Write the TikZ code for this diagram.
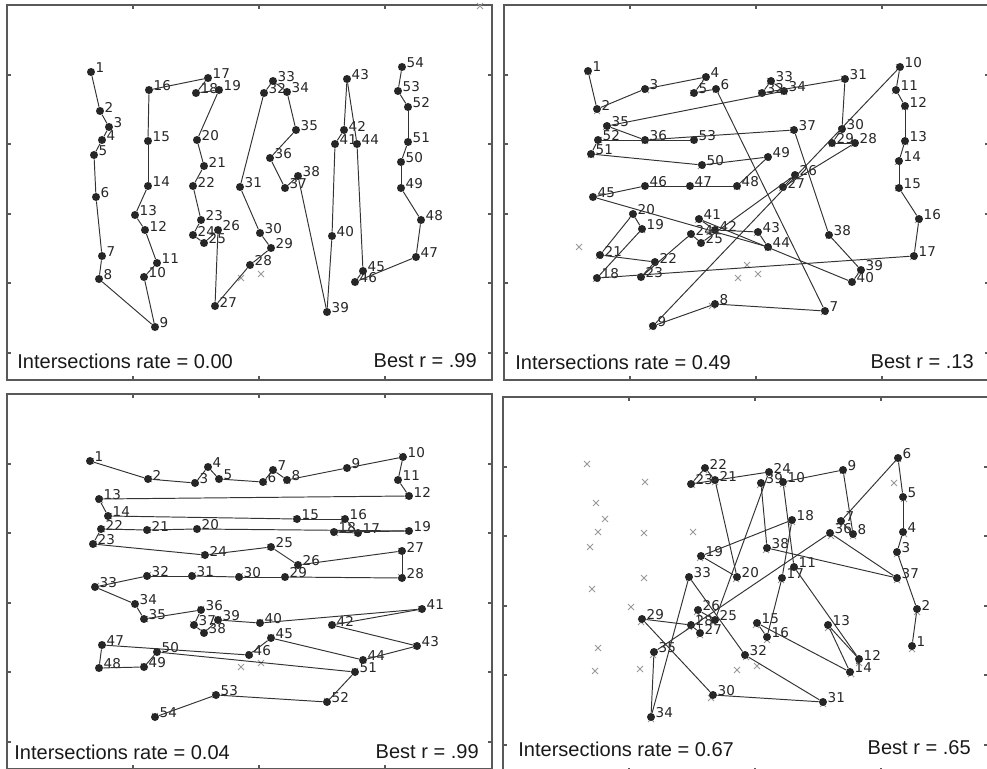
\documentclass[tikz,border=0pt]{standalone}
\usepackage{fontspec}
\usepackage{tikz}
\newfontfamily\plotfont{DejaVu Sans}
\newfontfamily\notefont{Liberation Sans}

\def\truepts{84/67,93/106,102/122,95/135,87/150,89/192,95/251,92/274,148/322,137/272,
  150/258,138/225,128/210,141/181,141/136,142/85,201/73,189/88,212/85,190/135,
  197/161,186/181,194/215,186/230,197/238,211/225,208/301,243/260,264/243,253/228,
  233/182,257/88,266/76,280/87,289/125,263/153,278/183,291/171,320/307,325/231,
  328/139,337/125,340/74,350/139,356/266,348/277,409/252,414/215,394/183,394/157,
  401/137,401/102,391/86,395/62,234/273,254/269}

\newcommand\panel[2]{%
  \begin{scope}[shift={(#1,#2)}]
    \draw[frame] (0,0) rectangle (485,375);
    \foreach \t in {126,252,378}
      \draw[frame] (\t,0) -- ++(0,4) (\t,375) -- ++(0,-4);
    \foreach \t in {70,139,209,278,348}
      \draw[frame] (0,\t) -- ++(4,0) (485,\t) -- ++(-4,0);
    \foreach \u/\v in \truepts
      \draw[xmark] (\u-3,\v-3) -- (\u+3,\v+3) (\u-3,\v+3) -- (\u+3,\v-3);
  \end{scope}}

\begin{document}
\begin{tikzpicture}[x=0.2mm,y=-0.2mm,
    dot/.style={circle,fill=black!85,inner sep=0pt,minimum size=1.6mm,label distance=-1mm},
    lab/.style={font=\plotfont\fontsize{7.7}{8}\selectfont,inner sep=0pt,yshift=0.8mm,text=black!85},
    link/.style={draw=black!80,line width=0.55pt},
    xmark/.style={draw=black!40,line width=0.45pt},
    frame/.style={draw=black!65,line width=0.6pt},
    note/.style={font=\notefont\fontsize{11.4}{13}\selectfont,inner sep=0pt,text=black!90}]

  \useasboundingbox (0,0) rectangle (987,769);

  \panel{7}{5}
  \panel{504}{5}
  \panel{7}{394}
  \panel{503}{397}
  \draw[xmark] (477,3) -- (483,9) (477,9) -- (483,3);
  \draw[xmark] (576,244) -- (582,250) (576,250) -- (582,244);

  \foreach \n/\x/\y in {1/91/72, 2/100/111, 3/109/127, 4/102/140, 5/94/155, 6/96/197,
      7/102/256, 8/99/279, 9/155/327, 10/144/277, 11/157/263, 12/145/230, 13/135/215,
      14/148/186, 15/148/141, 16/149/90, 17/208/78, 18/196/93, 19/219/90, 20/197/140,
      21/204/166, 22/193/186, 23/201/220, 24/193/235, 25/204/243, 26/218/230, 27/215/306,
      28/250/265, 29/271/248, 30/260/233, 31/240/187, 32/264/93, 33/273/81, 34/287/92,
      35/296/130, 36/270/158, 37/285/188, 38/298/176, 39/327/312, 40/332/236, 41/335/144,
      42/344/130, 43/347/79, 44/357/144, 45/363/271, 46/355/282, 47/416/257, 48/421/220,
      49/401/188, 50/401/162, 51/408/142, 52/408/107, 53/398/91, 54/402/67}
    \node[dot,label={[lab]right:\n}] (a\n) at (\x,\y) {};
  \foreach \n [count=\m from 2] in {1,...,53}
    \draw[link] (a\n) -- (a\m);

  \foreach \n/\x/\y in {1/588/71, 2/597/109, 3/645/89, 4/706/77, 5/694/93, 6/716/89,
      7/825/311, 8/715/304, 9/653/326, 10/900/67, 11/896/90, 12/905/106, 13/905/141,
      14/899/161, 15/899/188, 16/919/219, 17/914/256, 18/597/278, 19/642/229, 20/633/214,
      21/600/255, 22/655/262, 23/641/277, 24/691/234, 25/701/243, 26/795/175, 27/783/187,
      28/855/143, 29/832/143, 30/842/129, 31/845/79, 32/762/93, 33/771/81, 34/784/91,
      35/607/126, 36/645/140, 37/794/130, 38/829/235, 39/861/270, 40/852/282, 41/699/219,
      42/715/230, 43/758/232, 44/768/247, 45/593/197, 46/645/186, 47/690/186, 48/737/186,
      49/768/157, 50/702/165, 51/591/154, 52/598/140, 53/694/140}
    \node[dot,label={[lab]right:\n}] (b\n) at (\x,\y) {};
  \foreach \n [count=\m from 2] in {1,...,52}
    \draw[link] (b\n) -- (b\m);

  \foreach \n/\x/\y in {1/90/461, 2/148/479, 3/195/483, 4/208/467, 5/219/479, 6/263/482,
      7/273/470, 8/287/480, 9/347/468, 10/403/457, 11/398/480, 12/409/496, 13/99/499,
      14/108/516, 15/297/519, 16/345/519, 17/358/533, 18/334/532, 19/409/531, 20/197/529,
      21/147/530, 22/101/529, 23/93/544, 24/205/555, 25/271/547, 26/298/565, 27/402/551,
      28/402/578, 29/285/577, 30/239/577, 31/192/576, 32/147/576, 33/95/587, 34/135/604,
      35/144/619, 36/201/610, 37/194/625, 38/204/633, 39/218/620, 40/260/623, 41/422/609,
      42/332/625, 43/417/646, 44/363/660, 45/271/638, 46/249/655, 47/102/645, 48/99/668,
      49/144/667, 50/157/652, 51/355/672, 52/327/702, 53/216/695, 54/155/717}
    \node[dot,label={[lab]right:\n}] (c\n) at (\x,\y) {};
  \foreach \n [count=\m from 2] in {1,...,53}
    \draw[link] (c\n) -- (c\m);

  \foreach \n/\x/\y in {1/912/646, 2/917/609, 3/897/552, 4/903/532, 5/903/497, 6/898/458,
      7/841/521, 8/853/534, 9/843/470, 10/783/482, 11/794/567, 12/859/659, 13/828/625,
      14/850/672, 15/757/623, 16/767/637, 17/782/578, 18/792/520, 19/701/556, 20/737/577,
      21/715/480, 22/705/468, 23/691/484, 24/769/472, 25/715/620, 26/698/610, 27/700/633,
      28/691/625, 29/642/619, 30/713/695, 31/823/702, 32/745/655, 33/689/577, 34/651/717,
      35/654/652, 36/830/533, 37/897/578, 38/767/548, 39/761/483}
    \node[dot,label={[lab]right:\n}] (d\n) at (\x,\y) {};
  \foreach \n [count=\m from 2] in {1,...,38}
    \draw[link] (d\n) -- (d\m);

  \node[note,anchor=west] (ir1) at (17,361) {Intersections rate = 0.00};
  \node[note,anchor=east] (br1) at (477,361) {Best r = .99};
  \node[note,anchor=west] (ir2) at (515,362) {Intersections rate = 0.49};
  \node[note,anchor=east] (br2) at (974,362) {Best r = .13};
  \node[note,anchor=west] (ir3) at (14,752) {Intersections rate = 0.04};
  \node[note,anchor=east] (br3) at (479,752) {Best r = .99};
  \node[note,anchor=west] (ir4) at (518,749) {Intersections rate = 0.67};
  \node[note,anchor=east] (br4) at (971,748) {Best r = .65};

\end{tikzpicture}
\end{document}
